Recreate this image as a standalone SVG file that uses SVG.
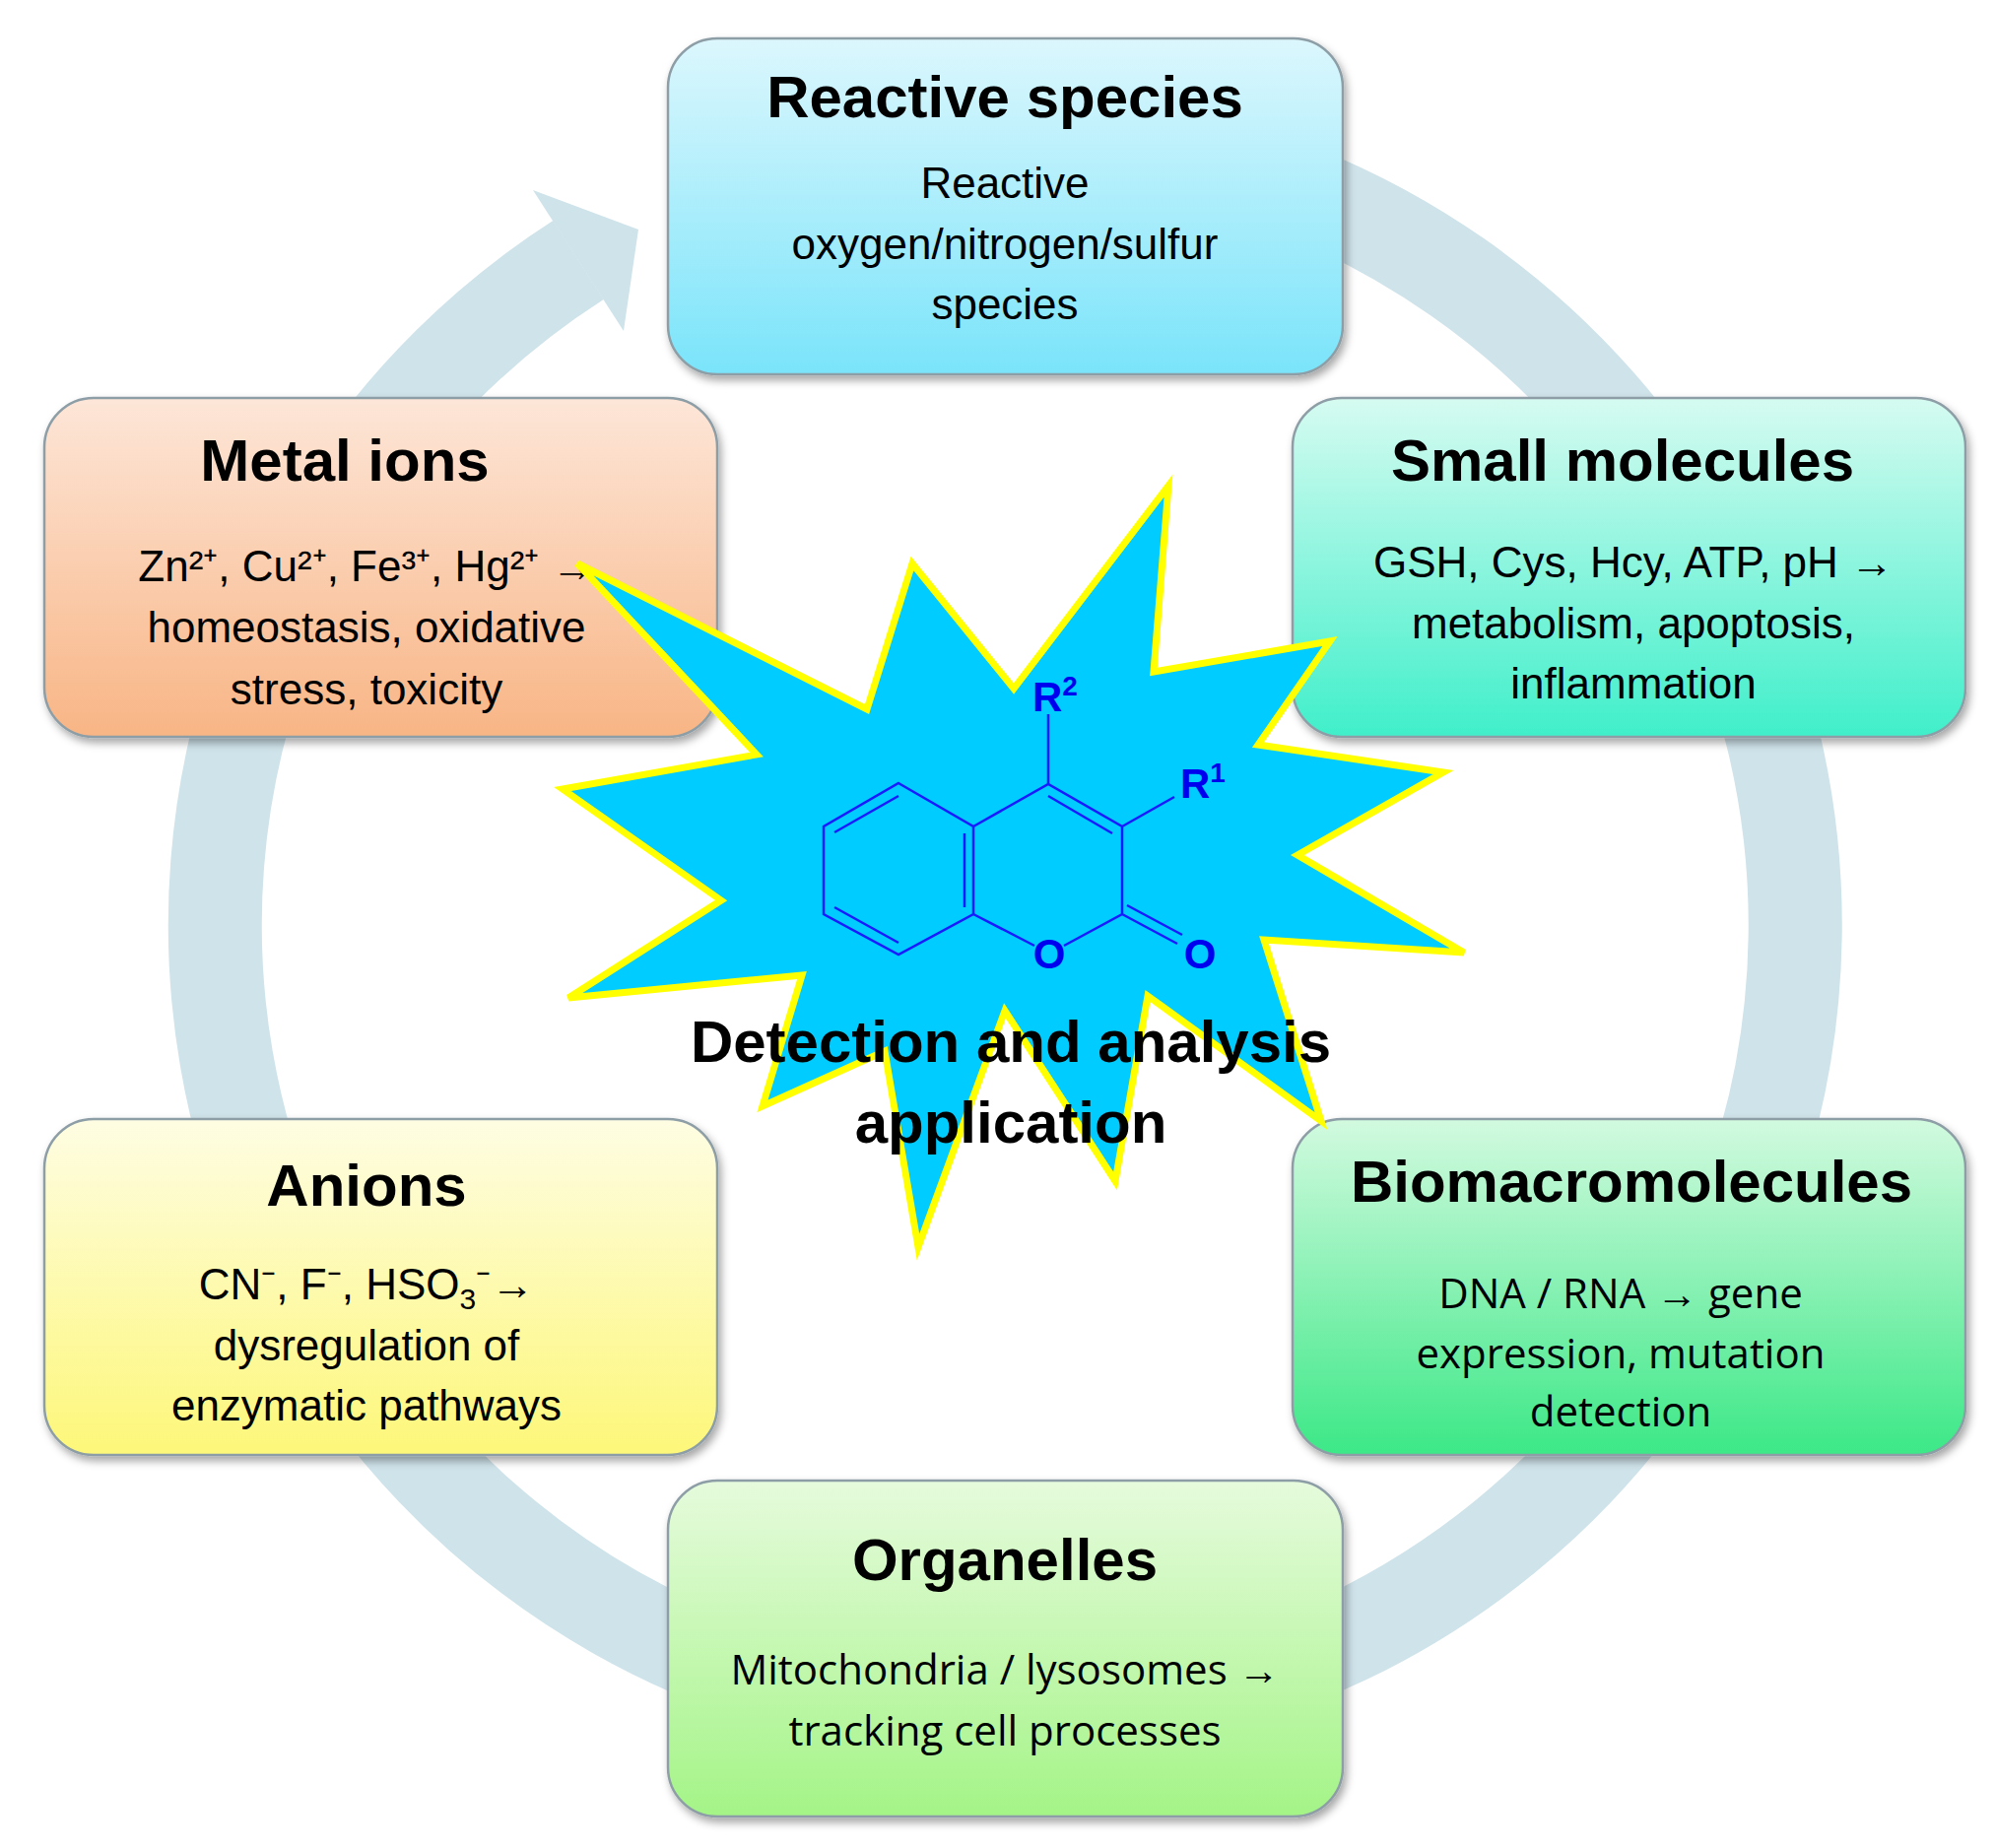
<svg xmlns="http://www.w3.org/2000/svg" width="2025" height="1876" viewBox="0 0 2025 1876">
<style>
.box{stroke:#8e9ea6;stroke-width:2.5;filter:url(#sh)}
.t{font-family:"Liberation Sans",Arial,sans-serif;font-weight:bold;font-size:60px;text-anchor:middle;fill:#000}
.b{font-family:"Liberation Sans",Arial,sans-serif;font-size:44px;text-anchor:middle;fill:#000}
.c{font-family:"Open Sans","Liberation Sans",sans-serif;font-size:42px;text-anchor:middle;fill:#000}
.m{font-family:"Liberation Sans",Arial,sans-serif;font-size:42px;font-weight:bold;fill:#0000ee}
.bond{stroke:#1a1aff;stroke-width:2.5;fill:none}
</style>
<defs>
<filter id="sh" x="-5%" y="-5%" width="112%" height="115%"><feDropShadow dx="3" dy="5" stdDeviation="4" flood-color="#000" flood-opacity="0.35"/></filter>
<linearGradient id="g1" x1="0" y1="0" x2="0" y2="1"><stop offset="0" stop-color="#dcf7fd"/><stop offset="1" stop-color="#7ae4fa"/></linearGradient>
<linearGradient id="g2" x1="0" y1="0" x2="0" y2="1"><stop offset="0" stop-color="#fde6d8"/><stop offset="1" stop-color="#f8b585"/></linearGradient>
<linearGradient id="g3" x1="0" y1="0" x2="0" y2="1"><stop offset="0" stop-color="#d6fbf1"/><stop offset="1" stop-color="#40efca"/></linearGradient>
<linearGradient id="g4" x1="0" y1="0" x2="0" y2="1"><stop offset="0" stop-color="#fefde3"/><stop offset="1" stop-color="#fdf779"/></linearGradient>
<linearGradient id="g5" x1="0" y1="0" x2="0" y2="1"><stop offset="0" stop-color="#d2fadf"/><stop offset="1" stop-color="#3ce887"/></linearGradient>
<linearGradient id="g6" x1="0" y1="0" x2="0" y2="1"><stop offset="0" stop-color="#e6fbdc"/><stop offset="1" stop-color="#a4f487"/></linearGradient>
</defs>
<rect width="2025" height="1876" fill="#fff"/>
<g id="connectors">
<path d="M 587 264 A 802 802 0 1 0 1159 149" fill="none" stroke="#cfe3ea" stroke-width="95"/>
<polygon points="648,233 541,193 633,336" fill="#cfe3ea"/>
</g>
<g id="reactive">
<rect class="box" x="678" y="39" width="685" height="341" rx="50" fill="url(#g1)"/>
<text class="t" x="1020" y="119">Reactive species</text>
<text class="b" x="1020" y="201">Reactive</text>
<text class="b" x="1020" y="263">oxygen/nitrogen/sulfur</text>
<text class="b" x="1020" y="324">species</text>
</g>
<g id="metal">
<rect class="box" x="45" y="404" width="683" height="344" rx="50" fill="url(#g2)"/>
<text class="t" x="350" y="488">Metal ions</text>
<text class="b" x="372" y="590">Zn²⁺, Cu²⁺, Fe³⁺, Hg²⁺ →</text>
<text class="b" x="372" y="652">homeostasis, oxidative</text>
<text class="b" x="372" y="715">stress, toxicity</text>
</g>
<g id="small">
<rect class="box" x="1312" y="404" width="683" height="344" rx="50" fill="url(#g3)"/>
<text class="t" x="1647" y="488">Small molecules</text>
<text class="b" x="1658" y="586">GSH, Cys, Hcy, ATP, pH →</text>
<text class="b" x="1658" y="648">metabolism, apoptosis,</text>
<text class="b" x="1658" y="709">inflammation</text>
</g>
<g id="anions">
<rect class="box" x="45" y="1136" width="683" height="341" rx="50" fill="url(#g4)"/>
<text class="t" x="372" y="1224">Anions</text>
<text class="b" x="372" y="1319">CN⁻, F⁻, HSO<tspan font-size="30" dy="10">3</tspan><tspan dy="-10">⁻→</tspan></text>
<text class="b" x="372" y="1381">dysregulation of</text>
<text class="b" x="372" y="1442">enzymatic pathways</text>
</g>
<g id="bio">
<rect class="box" x="1312" y="1136" width="683" height="341" rx="50" fill="url(#g5)"/>
<text class="t" x="1656" y="1220">Biomacromolecules</text>
<text class="c" x="1645" y="1328">DNA / RNA → gene</text>
<text class="c" x="1645" y="1389">expression, mutation</text>
<text class="c" x="1645" y="1448">detection</text>
</g>
<g id="organelles">
<rect class="box" x="678" y="1503" width="685" height="341" rx="50" fill="url(#g6)"/>
<text class="t" x="1020" y="1604">Organelles</text>
<text class="c" x="1020" y="1710">Mitochondria / lysosomes →</text>
<text class="c" x="1020" y="1772">tracking cell processes</text>
</g>
<g id="center">
<polygon points="586,572 880,720 926,572 1029,699 1186,493 1171,682 1350,651 1277,756 1465,784 1317,868 1486,967 1283,954 1341,1138 1165,1011 1132,1199 1020,1026 932,1266 898,1067 774,1123 814,990 577,1013 732,914 571,801 768,766" fill="#00ccff" stroke="#ffff00" stroke-width="7" stroke-linejoin="miter"/>
<path class="bond" d="M912,795 L988,839 L988,928 L912,969 L836,928 L836,839 Z M912,808 L847,845 M979,846 L979,921 M847,921 L912,957"/>
<path class="bond" d="M988,839 L1064,796 L1139,839 L1139,928 L1080,960 M1050,960 L988,928 M1064,808 L1129,846 M1064,796 L1064,725 M1139,839 L1192,809 M1139,928 L1195,958 M1144,919 L1200,949"/>
<text class="m" x="1048" y="722">R<tspan font-size="28" dy="-16">2</tspan></text>
<text class="m" x="1198" y="810">R<tspan font-size="28" dy="-16">1</tspan></text>
<text class="m" x="1065" y="983" text-anchor="middle">O</text>
<text class="m" x="1218" y="983" text-anchor="middle">O</text>
<text class="t" x="1026" y="1078" font-size="62">Detection and analysis</text>
<text class="t" x="1026" y="1160" font-size="62">application</text>
</g>
</svg>
